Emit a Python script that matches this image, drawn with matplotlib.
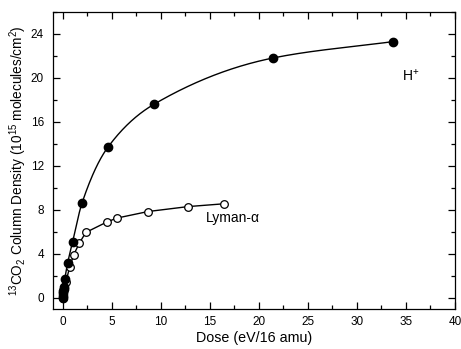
import numpy as np
import matplotlib
matplotlib.use("Agg")
import matplotlib.pyplot as plt
from matplotlib.ticker import MultipleLocator

plt.rcParams['font.family'] = ['Liberation Sans', 'DejaVu Sans']
plt.rcParams['mathtext.default'] = 'regular'

# H+ irradiation (filled circles)
dose_h = [0, 0.02, 0.04, 0.06, 0.08, 0.1, 0.2, 0.5, 1.0, 1.95, 4.6, 9.3, 21.4, 33.7]
col_h = [0, 0.2, 0.4, 0.6, 0.8, 1.0, 1.7, 3.2, 5.1, 8.6, 13.7, 17.6, 21.8, 23.3]

# Lyman-alpha photolysis (open circles)
dose_ly = [0, 0.05, 0.1, 0.3, 0.7, 1.1, 1.7, 2.35, 4.5, 5.5, 8.7, 12.8, 16.4]
col_ly = [0, 0.5, 0.9, 1.4, 2.8, 3.9, 5.0, 5.95, 6.9, 7.25, 7.85, 8.3, 8.55]


def pchip(x, y, xn):
    # monotone cubic through the measured points
    x = np.asarray(x, float)
    y = np.asarray(y, float)
    h = np.diff(x)
    d = np.diff(y) / h
    m = np.zeros_like(y)
    for k in range(1, len(x) - 1):
        if d[k - 1] * d[k] > 0:
            w1 = 2 * h[k] + h[k - 1]
            w2 = h[k] + 2 * h[k - 1]
            m[k] = (w1 + w2) / (w1 / d[k - 1] + w2 / d[k])
    m[0] = d[0]
    m[-1] = d[-1]
    i = np.clip(np.searchsorted(x, xn) - 1, 0, len(x) - 2)
    t = (xn - x[i]) / h[i]
    h00 = 2 * t**3 - 3 * t**2 + 1
    h10 = t**3 - 2 * t**2 + t
    h01 = -2 * t**3 + 3 * t**2
    h11 = t**3 - t**2
    return h00 * y[i] + h10 * h[i] * m[i] + h01 * y[i + 1] + h11 * h[i] * m[i + 1]


fig = plt.figure(figsize=(4.61, 3.49), dpi=100)
ax = fig.add_axes([0.115, 0.115, 0.872, 0.851])

xs = np.linspace(0, dose_h[-1], 600)
ax.plot(xs, pchip(dose_h, col_h, xs), color='black', lw=1)
ax.plot(dose_h, col_h, 'o', color='black', ms=6, zorder=3)

ax.plot(dose_ly, col_ly, '-o', color='black', lw=1, ms=5.5,
        markerfacecolor='white', markeredgewidth=0.9, zorder=2)

ax.text(34.6, 20.2, 'H$^{+}$', fontsize=10, ha='left', va='center')
ax.text(14.6, 7.3, 'Lyman-\u03b1', fontsize=10, ha='left', va='center')

ax.set_xlim(-1, 40)
ax.set_ylim(-1, 26)
ax.xaxis.set_major_locator(MultipleLocator(5))
ax.xaxis.set_minor_locator(MultipleLocator(2.5))
ax.yaxis.set_major_locator(MultipleLocator(4))
ax.yaxis.set_minor_locator(MultipleLocator(2))
ax.tick_params(which='both', direction='in', top=True, right=True,
               labelsize=8.5, width=0.9)
ax.tick_params(which='major', length=5)
ax.tick_params(which='minor', length=3)
ax.tick_params(axis='x', which='major', pad=5)
ax.tick_params(axis='y', which='major', pad=6.5)
for s in ax.spines.values():
    s.set_linewidth(0.9)

ax.set_xlabel('Dose (eV/16 amu)', fontsize=10.3, labelpad=2)
ax.set_ylabel('$^{13}$CO$_2$ Column Density (10$^{15}$ molecules/cm$^2$)',
              fontsize=9.8, labelpad=1.5)

fig.savefig('out.png', dpi=100)
